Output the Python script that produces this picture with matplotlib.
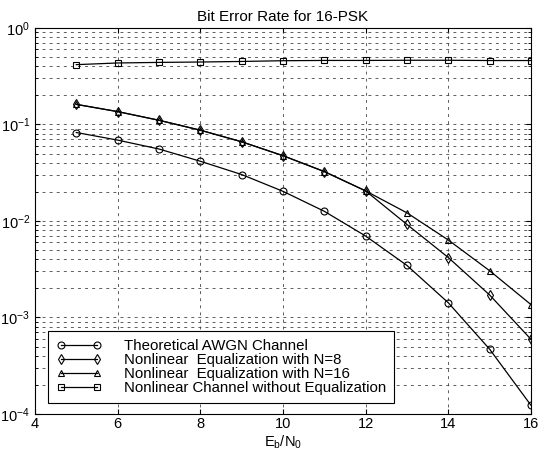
import numpy as np
import matplotlib
matplotlib.use("Agg")
import matplotlib.pyplot as plt
from matplotlib.ticker import LogLocator, NullFormatter

plt.rcParams['font.family'] = ['Liberation Sans', 'DejaVu Sans']
plt.rcParams['mathtext.fontset'] = 'custom'
plt.rcParams['mathtext.rm'] = 'Liberation Sans'
plt.rcParams['mathtext.it'] = 'Liberation Sans'

# data
ebn0 = [5, 6, 7, 8, 9, 10, 11, 12, 13, 14, 15, 16]
ber_awgn = [0.0826, 0.0689, 0.0557, 0.0416, 0.0303, 0.0203, 0.0126, 0.00698,
            0.00346, 0.00142, 0.000469, 0.000123]
ber_n8 = [0.1616, 0.136, 0.1106, 0.0873, 0.0662, 0.0475, 0.0325, 0.0205,
          0.0092, 0.00418, 0.00171, 0.000594]
ber_n16 = [0.1616, 0.136, 0.1106, 0.0873, 0.0662, 0.0475, 0.0325, 0.0205,
           0.01214, 0.00635, 0.00305, 0.00136]
ber_noeq = [0.417, 0.434, 0.440, 0.444, 0.450, 0.458, 0.461, 0.461,
            0.463, 0.463, 0.460, 0.460]

labels = ["Theoretical AWGN Channel",
          "Nonlinear  Equalization with N=8",
          "Nonlinear  Equalization with N=16",
          "Nonlinear Channel without Equalization"]
x_ticks = [4, 6, 8, 10, 12, 14, 16]

fig = plt.figure(figsize=(5.51, 4.5), dpi=100)
ax = fig.add_axes([0.0635, 0.08, 0.9002, 0.8578])

mk = dict(color='black', lw=0.9, markersize=5, markerfacecolor='none',
          markeredgewidth=0.8)
ax.semilogy(ebn0, ber_awgn, marker='o', label=labels[0], **mk)
ax.semilogy(ebn0, ber_n8, marker='d', label=labels[1], **mk)
ax.semilogy(ebn0, ber_n16, marker='^', label=labels[2], **mk)
ax.semilogy(ebn0, ber_noeq, marker='s', label=labels[3], **mk)

ax.set_xlim(4, 16)
ax.set_ylim(1e-4, 1)
ax.set_xticks(x_ticks)
ax.yaxis.set_major_locator(LogLocator(base=10, numticks=10))
ax.yaxis.set_minor_locator(LogLocator(base=10, subs=np.arange(2, 10), numticks=10))
ax.yaxis.set_minor_formatter(NullFormatter())
ax.tick_params(which='both', direction='in', top=True, right=True, labelsize=10.5)
ax.tick_params(axis='x', pad=2)
ax.tick_params(which='minor', length=2)

# dashed grid, major and y minor
ax.grid(True, which='major', color='#444444', linestyle=(0, (3.5, 5)), linewidth=0.6)
ax.grid(True, which='minor', axis='y', color='#444444', linestyle=(0, (3.5, 5)), linewidth=0.6)
for s in ax.spines.values():
    s.set_linewidth(0.8)

ax.set_title("Bit Error Rate for 16-PSK", fontsize=11, pad=5)
ax.set_xlabel(r"$\mathregular{E_b/N_0}$", fontsize=10.5)
ax.xaxis.set_label_coords(0.5, -0.05)

leg = ax.legend(loc='lower left', bbox_to_anchor=(0.026, 0.028), borderaxespad=0,
                fontsize=10.8, numpoints=2, handlelength=3.0, handletextpad=1.5,
                labelspacing=0.0, fancybox=False, framealpha=1, edgecolor='black',
                borderpad=0.55)
leg.get_frame().set_linewidth(0.8)

fig.savefig("out.png", dpi=100)
